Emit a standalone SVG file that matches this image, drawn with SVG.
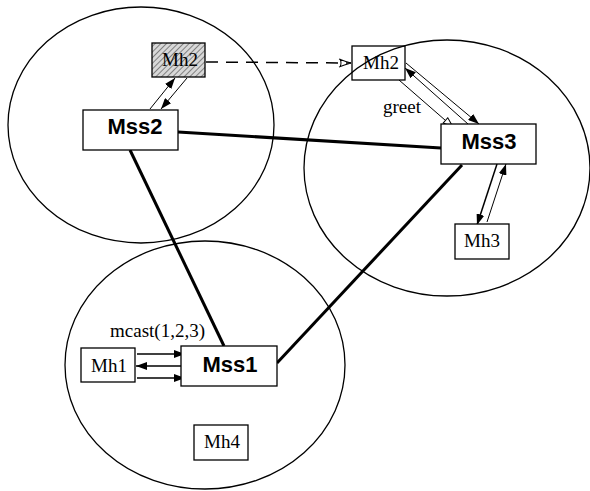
<svg xmlns="http://www.w3.org/2000/svg" width="590" height="491" viewBox="0 0 590 491">
<style>
.cell{fill:none;stroke:#000;stroke-width:1.3}
.box{fill:#fff;stroke:#000;stroke-width:1.3}
.mh{font-family:"Liberation Serif",serif;font-size:19px;fill:#000}
.mss{font-family:"Liberation Sans",Arial,sans-serif;font-size:22px;font-weight:bold;fill:#000}
.thick{stroke:#000;stroke-width:3;fill:none}
.thin{stroke:#000;stroke-width:1;fill:none}
.med{stroke:#000;stroke-width:1.5;fill:none}
</style>
<defs>
<pattern id="hatch" patternUnits="userSpaceOnUse" width="4" height="4" patternTransform="rotate(45)">
<rect width="4" height="4" fill="#d8d8d8"/>
<line x1="0" y1="0" x2="0" y2="4" stroke="#444" stroke-width="1.2"/>
</pattern>
<marker id="fa" markerUnits="userSpaceOnUse" markerWidth="11" markerHeight="8" refX="11" refY="4" orient="auto">
<path d="M0,0 L11,4 L0,8 z" fill="#000"/>
</marker>
<marker id="oa" markerUnits="userSpaceOnUse" markerWidth="12" markerHeight="9" refX="11" refY="4.5" orient="auto">
<path d="M1,1 L11,4.5 L1,8 z" fill="#fff" stroke="#000" stroke-width="1"/>
</marker>
<marker id="da" markerUnits="userSpaceOnUse" markerWidth="14" markerHeight="10" refX="13" refY="5" orient="auto">
<path d="M1,1 Q6,3 13,5 M1,9 Q6,7 13,5 M2,1 Q4,5 2,9" fill="none" stroke="#000" stroke-width="1"/>
</marker>
</defs>
<g id="cells">
<ellipse id="cell2" class="cell" cx="141" cy="125" rx="133" ry="118"/>
<ellipse id="cell3" class="cell" cx="447" cy="168" rx="143" ry="128"/>
<ellipse id="cell1" class="cell" cx="205" cy="365" rx="140" ry="124"/>
</g>
<g id="connectors">
<line class="thick" x1="178" y1="132" x2="441" y2="148"/>
<line class="thick" x1="130" y1="150" x2="224" y2="346"/>
<line class="thick" x1="462" y1="165" x2="277" y2="363"/>
<line class="thin" x1="150" y1="109" x2="175" y2="78" marker-end="url(#fa)"/>
<line class="thin" x1="187" y1="78" x2="161" y2="109" marker-end="url(#fa)"/>
<line class="med" x1="206" y1="62" x2="351" y2="63" stroke-dasharray="12,8" marker-end="url(#da)"/>
<line class="thin" x1="406" y1="63" x2="479" y2="124" marker-end="url(#fa)"/>
<line class="thin" x1="468" y1="124" x2="405" y2="68" marker-end="url(#fa)"/>
<line class="thin" x1="399" y1="80" x2="453" y2="127" marker-end="url(#oa)"/>
<line class="med" x1="497" y1="164" x2="477" y2="225" marker-end="url(#fa)"/>
<line class="thin" x1="487" y1="222" x2="506" y2="164" marker-end="url(#fa)"/>
<line class="med" x1="137" y1="354" x2="185" y2="354" marker-end="url(#fa)"/>
<line class="med" x1="182" y1="366" x2="136" y2="366" marker-end="url(#fa)"/>
<line class="med" x1="137" y1="378" x2="185" y2="378" marker-end="url(#fa)"/>
</g>
<g id="Mh2old">
<rect x="152" y="43" width="53" height="34" fill="url(#hatch)" stroke="#000" stroke-width="1.3"/>
<text class="mh" x="180" y="66" text-anchor="middle">Mh2</text>
</g>
<g id="Mh2new">
<rect x="352" y="46" width="53" height="34" fill="none" stroke="#000" stroke-width="1.3"/>
<text class="mh" x="381" y="69" text-anchor="middle">Mh2</text>
</g>
<g id="Mss2">
<rect class="box" x="83" y="110" width="95" height="40"/>
<text class="mss" x="135" y="134" text-anchor="middle">Mss2</text>
</g>
<g id="Mss3">
<rect class="box" x="441" y="124" width="95" height="40"/>
<text class="mss" x="489" y="149" text-anchor="middle">Mss3</text>
</g>
<g id="Mh3">
<rect class="box" x="455" y="224" width="54" height="35"/>
<text class="mh" x="482" y="247" text-anchor="middle">Mh3</text>
</g>
<g id="Mss1">
<rect class="box" x="181" y="346" width="96" height="40"/>
<text class="mss" x="230" y="372" text-anchor="middle">Mss1</text>
</g>
<g id="Mh1">
<rect class="box" x="81" y="348" width="54" height="34"/>
<text class="mh" x="109" y="372" text-anchor="middle">Mh1</text>
</g>
<g id="Mh4">
<rect class="box" x="194" y="425" width="54" height="35"/>
<text class="mh" x="222" y="448" text-anchor="middle">Mh4</text>
</g>
<g id="labels">
<text class="mh" x="110" y="337">mcast(1,2,3)</text>
<text class="mh" x="383" y="113">greet</text>
</g>
</svg>
